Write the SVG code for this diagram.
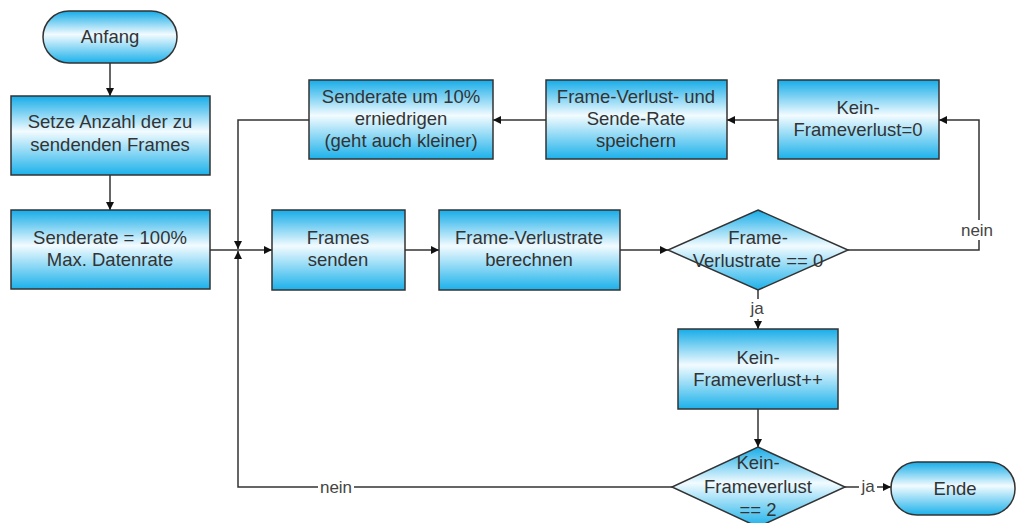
<svg xmlns="http://www.w3.org/2000/svg" width="1016" height="523" viewBox="0 0 1016 523">
  <defs>
    <linearGradient id="fillBlue" x1="0" y1="0" x2="0" y2="1">
      <stop offset="0" stop-color="#16ace8"/>
      <stop offset="0.45" stop-color="#f2fbff"/>
      <stop offset="1" stop-color="#1cb1ea"/>
    </linearGradient>
    <marker id="arrow" markerUnits="userSpaceOnUse" markerWidth="9" markerHeight="9" refX="8" refY="4" orient="auto">
      <path d="M0,0 L8,4 L0,8 z" fill="#111"/>
    </marker>
    <style>
      .shape { fill: url(#fillBlue); stroke: #333; stroke-width: 1.5; }
      .label { font-family: "Liberation Sans", Arial, sans-serif; font-size: 18.5px; fill: #333; text-anchor: middle; }
      .edge { fill: none; stroke: #333; stroke-width: 1.5; marker-end: url(#arrow); }
      .elabel { font-family: "Liberation Sans", Arial, sans-serif; font-size: 17px; fill: #444; text-anchor: middle; }
      .lblbg { fill: #fff; }
    </style>
  </defs>

  <!-- connectors -->
  <g id="connectors">
    <path class="edge" d="M110,63 V96"/>
    <path class="edge" d="M110,175 V210"/>
    <path class="edge" d="M210,250 H272"/>
    <path class="edge" d="M309,120 H238 V249"/>
    <path class="edge" d="M672,487 H238 V251"/>
    <path class="edge" d="M405,250 H439"/>
    <path class="edge" d="M620,250 H668"/>
    <path class="edge" d="M848,250 H979 V120 H939"/>
    <path class="edge" d="M778,120 H727"/>
    <path class="edge" d="M546,120 H493"/>
    <path class="edge" d="M758,290 V329"/>
    <path class="edge" d="M758,409 V447"/>
    <path class="edge" d="M845,487 H891"/>
    <!-- connector labels -->
    <rect class="lblbg" x="318" y="478" width="36" height="18"/>
    <text class="elabel" x="336" y="493">nein</text>
    <rect class="lblbg" x="960" y="220" width="36" height="20"/>
    <text class="elabel" x="977" y="236">nein</text>
    <rect class="lblbg" x="747" y="299" width="20" height="20"/>
    <text class="elabel" x="757" y="314">ja</text>
    <rect class="lblbg" x="859" y="478" width="18" height="18"/>
    <text class="elabel" x="868" y="492">ja</text>
  </g>

  <g id="anfang">
    <rect class="shape" x="43" y="11" width="134" height="52" rx="26" ry="26"/>
    <text class="label" x="110" y="43">Anfang</text>
  </g>

  <g id="setze-anzahl">
    <rect class="shape" x="11" y="96" width="199" height="79"/>
    <text class="label" x="110" y="128">Setze Anzahl der zu</text>
    <text class="label" x="110" y="151">sendenden Frames</text>
  </g>

  <g id="senderate-100">
    <rect class="shape" x="11" y="210" width="199" height="79"/>
    <text class="label" x="110" y="244">Senderate = 100%</text>
    <text class="label" x="110" y="266">Max. Datenrate</text>
  </g>

  <g id="frames-senden">
    <rect class="shape" x="272" y="210" width="133" height="80"/>
    <text class="label" x="338" y="244">Frames</text>
    <text class="label" x="338" y="266">senden</text>
  </g>

  <g id="verlustrate-berechnen">
    <rect class="shape" x="439" y="210" width="181" height="80"/>
    <text class="label" x="529" y="244">Frame-Verlustrate</text>
    <text class="label" x="529" y="266">berechnen</text>
  </g>

  <g id="verlustrate-null">
    <polygon class="shape" points="758,210 848,250 758,290 668,250"/>
    <text class="label" x="758" y="244">Frame-</text>
    <text class="label" x="758" y="267">Verlustrate == 0</text>
  </g>

  <g id="kein-verlust-reset">
    <rect class="shape" x="778" y="80" width="161" height="79"/>
    <text class="label" x="858" y="114">Kein-</text>
    <text class="label" x="858" y="136">Frameverlust=0</text>
  </g>

  <g id="speichern">
    <rect class="shape" x="546" y="80" width="181" height="79"/>
    <text class="label" x="636" y="103">Frame-Verlust- und</text>
    <text class="label" x="636" y="125">Sende-Rate</text>
    <text class="label" x="636" y="147">speichern</text>
  </g>

  <g id="senderate-erniedrigen">
    <rect class="shape" x="309" y="80" width="184" height="79"/>
    <text class="label" x="401" y="103">Senderate um 10%</text>
    <text class="label" x="401" y="125">erniedrigen</text>
    <text class="label" x="401" y="147">(geht auch kleiner)</text>
  </g>

  <g id="kein-verlust-inc">
    <rect class="shape" x="678" y="329" width="160" height="80"/>
    <text class="label" x="758" y="364">Kein-</text>
    <text class="label" x="758" y="386">Frameverlust++</text>
  </g>

  <g id="kein-verlust-zwei">
    <polygon class="shape" points="758,447 845,487 758,527 672,487"/>
    <text class="label" x="758" y="469">Kein-</text>
    <text class="label" x="758" y="493">Frameverlust</text>
    <text class="label" x="758" y="516">== 2</text>
  </g>

  <g id="ende">
    <rect class="shape" x="891" y="462" width="124" height="53" rx="26" ry="26"/>
    <text class="label" x="955" y="495">Ende</text>
  </g>
</svg>
